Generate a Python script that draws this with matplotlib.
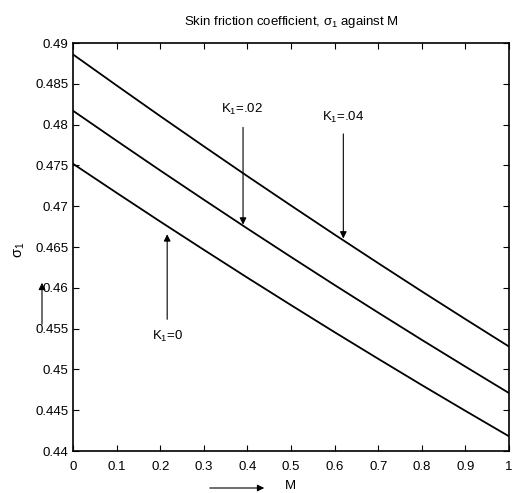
import matplotlib
matplotlib.use("Agg")
import matplotlib.pyplot as plt

plt.rcParams['font.family'] = ['Liberation Sans', 'DejaVu Sans']
plt.rcParams['mathtext.fontset'] = 'custom'
plt.rcParams['mathtext.rm'] = 'Liberation Sans'
plt.rcParams['mathtext.it'] = 'Liberation Sans'

M = [0, 0.1, 0.2, 0.3, 0.4, 0.5, 0.6, 0.7, 0.8, 0.9, 1.0]
sigma_k0 = [0.4752, 0.47164, 0.46812, 0.46466, 0.46124, 0.45788, 0.45456, 0.4513, 0.44808, 0.44492, 0.4418]
sigma_k02 = [0.4817, 0.47802, 0.47438, 0.4708, 0.46726, 0.46378, 0.46034, 0.45696, 0.45362, 0.45034, 0.4471]
sigma_k04 = [0.4886, 0.4848, 0.48104, 0.47734, 0.47368, 0.47008, 0.46652, 0.46302, 0.45956, 0.45616, 0.4528]

xticks = [0, 0.1, 0.2, 0.3, 0.4, 0.5, 0.6, 0.7, 0.8, 0.9, 1]
yticks = [0.44, 0.445, 0.45, 0.455, 0.46, 0.465, 0.47, 0.475, 0.48, 0.485, 0.49]

fig = plt.figure(figsize=(5.13, 4.93), dpi=100)
ax = fig.add_axes([73/513, 1-451/493, 436/513, 408/493])

for s in [sigma_k0, sigma_k02, sigma_k04]:
    ax.plot(M, s, color='black', lw=1.3)

ax.set_xlim(0, 1)
ax.set_ylim(0.44, 0.49)
ax.set_xticks(xticks)
ax.set_xticklabels(['0', '0.1', '0.2', '0.3', '0.4', '0.5', '0.6', '0.7', '0.8', '0.9', '1'])
ax.set_yticks(yticks)
ax.set_yticklabels(['0.44', '0.445', '0.45', '0.455', '0.46', '0.465', '0.47', '0.475', '0.48', '0.485', '0.49'])
ax.tick_params(direction='in', top=True, right=True, labelsize=9.5, length=4, width=0.8)
ax.tick_params(axis='x', pad=7)
for sp in ax.spines.values():
    sp.set_linewidth(1.2)

ax.set_title(r'Skin friction coefficient, $\sigma_1$ against M', fontsize=9.5, pad=13)

arr = dict(arrowstyle='-|>', color='black', lw=0.8, mutation_scale=10)
ax.annotate('', xy=(0.216, 0.4669), xytext=(0.216, 0.4558), arrowprops=arr)
ax.text(0.216, 0.4540, r'K$_1$=0', ha='center', va='center', fontsize=9.5)
ax.annotate('', xy=(0.39, 0.4674), xytext=(0.39, 0.4800), arrowprops=arr)
ax.text(0.388, 0.4818, r'K$_1$=.02', ha='center', va='center', fontsize=9.5)
ax.annotate('', xy=(0.62, 0.4657), xytext=(0.62, 0.4792), arrowprops=arr)
ax.text(0.619, 0.4809, r'K$_1$=.04', ha='center', va='center', fontsize=9.5)

# axis labels with arrows
fig.text(20/513, 1-250/493, r'$\sigma_1$', rotation=90, ha='center', va='center', fontsize=10.5)
fig.text(290/513, 1-486/493, 'M', ha='center', va='center', fontsize=9.5)
fig.add_artist(matplotlib.patches.FancyArrowPatch((42/513, 1-327/493), (42/513, 1-280/493),
               transform=fig.transFigure, arrowstyle='-|>', color='black', lw=0.8, mutation_scale=10))
fig.add_artist(matplotlib.patches.FancyArrowPatch((207/513, 1-488/493), (267/513, 1-488/493),
               transform=fig.transFigure, arrowstyle='-|>', color='black', lw=0.8, mutation_scale=10))

fig.savefig('out.png', dpi=100)
